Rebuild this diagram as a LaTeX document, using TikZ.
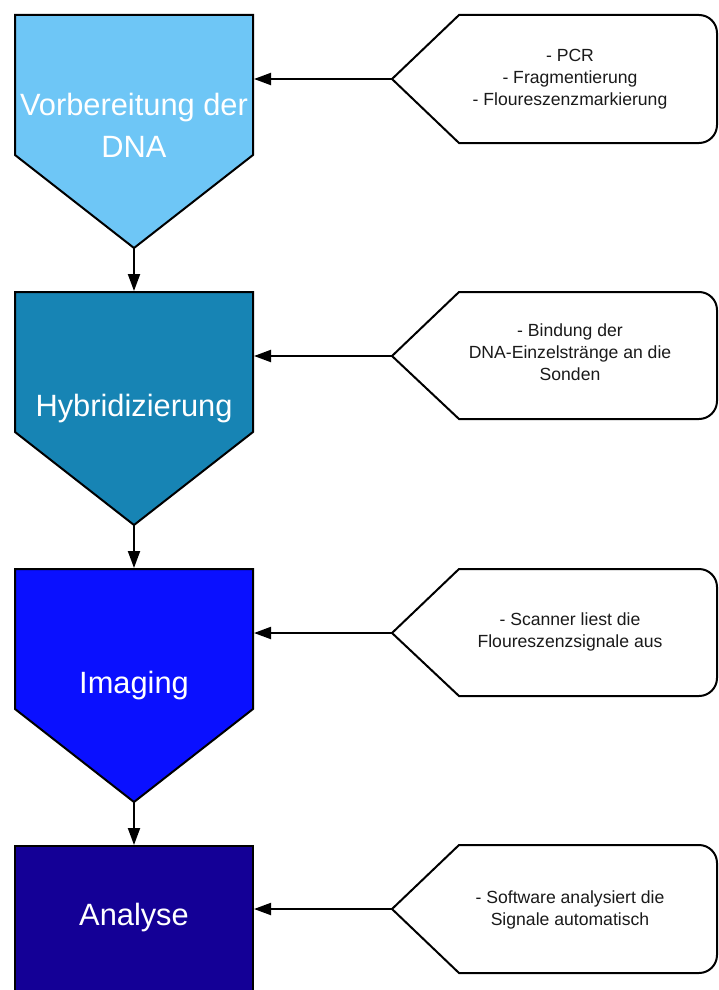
\documentclass[tikz,border=0pt]{standalone}
\usepackage{fontspec}
\setmainfont{Liberation Sans}
\usetikzlibrary{arrows.meta}

\definecolor{prepfill}{HTML}{6EC6F6}
\definecolor{hybfill}{HTML}{1784B4}
\definecolor{imgfill}{HTML}{0A10FF}
\definecolor{anafill}{HTML}{140096}
\definecolor{notetext}{HTML}{1A1A1A}

\begin{document}
\begin{tikzpicture}[x=1pt,y=1pt,
  stage/.style={draw=black, line width=2pt, line join=miter},
  stagelabel/.style={text=white, font=\fontsize{30.8}{42}\selectfont, align=center, inner sep=0pt},
  note/.style={draw=black, line width=2pt, fill=white, line join=miter},
  notelabel/.style={text=notetext, font=\fontsize{17.6}{21.8}\selectfont, align=center, inner sep=0pt},
  flow/.style={line width=2pt, -{Triangle[length=17pt,width=12pt]}}]

\useasboundingbox (0,0) rectangle (718,-990);
\clip (0,0) rectangle (718,-990);

% process stages (pentagons pointing down, last one a plain box)
\draw[stage, fill=prepfill] (15,-15) -- (253,-15) -- (253,-155) -- (134,-248) -- (15,-155) -- cycle;
\draw[stage, fill=hybfill]  (15,-292) -- (253,-292) -- (253,-432) -- (134,-525) -- (15,-432) -- cycle;
\draw[stage, fill=imgfill]  (15,-569) -- (253,-569) -- (253,-709) -- (134,-802) -- (15,-709) -- cycle;
\draw[stage, fill=anafill]  (15,-846) -- (253,-846) -- (253,-1000) -- (15,-1000) -- cycle;

\node[stagelabel] (prep) at (134,-125) {Vorbereitung der\\DNA};
\node[stagelabel, anchor=base] (hyb) at (134,-416) {Hybridizierung};
\node[stagelabel, anchor=base] (img) at (134,-693) {Imaging};
\node[stagelabel, anchor=base] (ana) at (134,-925) {Analyse};

% description callouts (pointed left, rounded right corners)
\draw[note] (392,-79) -- (459,-15) -- (699,-15) arc[start angle=90,end angle=0,radius=18]
  -- (717,-125) arc[start angle=0,end angle=-90,radius=18] -- (459,-143) -- cycle;
\draw[note] (392,-356) -- (459,-292) -- (699,-292) arc[start angle=90,end angle=0,radius=18]
  -- (717,-401) arc[start angle=0,end angle=-90,radius=18] -- (459,-419) -- cycle;
\draw[note] (392,-633) -- (459,-569) -- (699,-569) arc[start angle=90,end angle=0,radius=18]
  -- (717,-678) arc[start angle=0,end angle=-90,radius=18] -- (459,-696) -- cycle;
\draw[note] (392,-909) -- (459,-845) -- (699,-845) arc[start angle=90,end angle=0,radius=18]
  -- (717,-955) arc[start angle=0,end angle=-90,radius=18] -- (459,-973) -- cycle;

\node[notelabel] (note1) at (570,-79) {- PCR\\- Fragmentierung\\- Floureszenzmarkierung};
\node[notelabel] (note2) at (570,-352) {- Bindung der\\DNA-Einzelstränge an die\\Sonden};
\node[notelabel] (note3) at (570,-632) {- Scanner liest die\\Floureszenzsignale aus};
\node[notelabel] (note4) at (570,-910) {- Software analysiert die\\Signale automatisch};

% connection points
\coordinate (prep-tip) at (134,-248);
\coordinate (hyb-top)  at (134,-291);
\coordinate (hyb-tip)  at (134,-525);
\coordinate (img-top)  at (134,-568);
\coordinate (img-tip)  at (134,-802);
\coordinate (ana-top)  at (134,-845);

\coordinate (prep-in) at (254,-79);
\coordinate (hyb-in)  at (254,-356);
\coordinate (img-in)  at (254,-633);
\coordinate (ana-in)  at (254,-909);

\coordinate (note1-tip) at (392,-79);
\coordinate (note2-tip) at (392,-356);
\coordinate (note3-tip) at (392,-633);
\coordinate (note4-tip) at (392,-909);

% flow between stages
\draw[flow] (prep-tip) -- (hyb-top);
\draw[flow] (hyb-tip) -- (img-top);
\draw[flow] (img-tip) -- (ana-top);

% callouts feeding their stage
\draw[flow] (note1-tip) -- (prep-in);
\draw[flow] (note2-tip) -- (hyb-in);
\draw[flow] (note3-tip) -- (img-in);
\draw[flow] (note4-tip) -- (ana-in);
\end{tikzpicture}
\end{document}
